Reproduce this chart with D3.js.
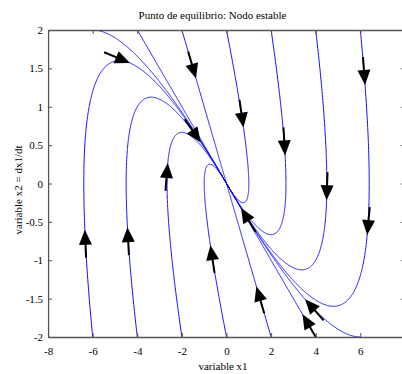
<!DOCTYPE html>
<html>
<head>
<meta charset="utf-8">
<script src="https://cdn.jsdelivr.net/npm/d3@7"></script>
<style>
  html, body { margin: 0; padding: 0; background: #fff; }
  svg { display: block; font-family: "Liberation Serif", "Times New Roman", serif; }
</style>
</head>
<body>
<svg id="chart" width="402" height="374"></svg>
<script>
// Linear system:  x1' = a11*x1 + a12*x2 ,  x2' = a21*x1 + a22*x2
const sysRow1 = [0, 1];
const sysRow2 = [-0.5, -1.5];

// Initial conditions: x1 positions on the top edge (x2 = 2) and bottom edge (x2 = -2)
const startX1 = [-6, -4, -2, 0, 2, 4, 6];
const startX2 = [2, -2];

// Arrow tips (approximate phase-plane positions, snapped onto the trajectories)
const arrowX1 = [-4.33, -6.26, -4.46, -1.50, -1.19, -2.62, 0.70, 0.65, 2.58, 4.50, 6.16, 6.30, 3.61, 3.38, 1.50, -0.65];
const arrowX2 = [ 1.57, -0.62, -0.57,  1.35,  0.53,  0.27, 0.72, -0.32, 0.37, -0.21, 1.26, -0.67, -1.49, -1.71, -1.32, -0.80];

// Axis ticks and labels
const xTicks = [-8, -6, -4, -2, 0, 2, 4, 6, 8];
const yTicks = [-2, -1.5, -1, -0.5, 0, 0.5, 1, 1.5, 2];
const xDomain = [-8, 8];
const yDomain = [-2, 2];
const titleText = "Punto de equilibrio: Nodo estable";
const xLabelText = "variable x1";
const yLabelText = "variable x2 = dx1/dt";

const svg = d3.select("#chart");
const plot = { left: 48.1, right: 404.9, top: 30, bottom: 337 };

const x = d3.scaleLinear().domain(xDomain).range([plot.left, plot.right]);
const y = d3.scaleLinear().domain(yDomain).range([plot.bottom, plot.top]);

// vector field
function field(p) {
  return [
    sysRow1[0] * p[0] + sysRow1[1] * p[1],
    sysRow2[0] * p[0] + sysRow2[1] * p[1]
  ];
}

// RK4 integration towards the equilibrium
function integrate(p0) {
  const dt = 0.01;
  const pts = [p0.slice()];
  let p = p0.slice();
  for (let t = 0; t < 60; t += dt) {
    const k1 = field(p);
    const k2 = field([p[0] + dt / 2 * k1[0], p[1] + dt / 2 * k1[1]]);
    const k3 = field([p[0] + dt / 2 * k2[0], p[1] + dt / 2 * k2[1]]);
    const k4 = field([p[0] + dt * k3[0], p[1] + dt * k3[1]]);
    p = [
      p[0] + dt / 6 * (k1[0] + 2 * k2[0] + 2 * k3[0] + k4[0]),
      p[1] + dt / 6 * (k1[1] + 2 * k2[1] + 2 * k3[1] + k4[1])
    ];
    pts.push(p);
    if (Math.hypot(p[0], p[1]) < 1e-3) break;
  }
  return pts;
}

const trajectories = [];
startX2.forEach(x2 => startX1.forEach(x1 => trajectories.push(integrate([x1, x2]))));

// clip region = axes box
svg.append("defs").append("clipPath").attr("id", "plotClip")
  .append("rect")
  .attr("x", plot.left).attr("y", plot.top)
  .attr("width", plot.right - plot.left).attr("height", plot.bottom - plot.top);

const gPlot = svg.append("g").attr("clip-path", "url(#plotClip)");

const line = d3.line().x(d => x(d[0])).y(d => y(d[1]));

gPlot.selectAll("path.traj")
  .data(trajectories)
  .join("path")
  .attr("class", "traj")
  .attr("d", line)
  .attr("fill", "none")
  .attr("stroke", "#1010ff")
  .attr("stroke-width", 1);

// arrows: snap each tip to the closest trajectory point, orient along the field
const allPts = trajectories.flat();
const arrows = arrowX1.map((ax, i) => {
  const ay = arrowX2[i];
  let best = null, bestD = Infinity;
  for (const q of allPts) {
    const d = Math.hypot(x(q[0]) - x(ax), y(q[1]) - y(ay));
    if (d < bestD) { bestD = d; best = q; }
  }
  const v = field(best);
  const vx = x(v[0]) - x(0);
  const vy = y(v[1]) - y(0);
  const n = Math.hypot(vx, vy);
  return { px: x(best[0]), py: y(best[1]), ux: vx / n, uy: vy / n };
});

const headLen = 15, headHalf = 6.5, shaftLen = 28;

gPlot.selectAll("line.shaft")
  .data(arrows)
  .join("line")
  .attr("class", "shaft")
  .attr("x1", d => d.px - d.ux * shaftLen)
  .attr("y1", d => d.py - d.uy * shaftLen)
  .attr("x2", d => d.px - d.ux * headLen * 0.5)
  .attr("y2", d => d.py - d.uy * headLen * 0.5)
  .attr("stroke", "#000")
  .attr("stroke-width", 2);

gPlot.selectAll("path.head")
  .data(arrows)
  .join("path")
  .attr("class", "head")
  .attr("d", d => {
    const bx = d.px - d.ux * headLen, by = d.py - d.uy * headLen;
    const nx = -d.uy, ny = d.ux;
    return `M${d.px},${d.py}L${bx + nx * headHalf},${by + ny * headHalf}L${bx - nx * headHalf},${by - ny * headHalf}Z`;
  })
  .attr("fill", "#000");

// axes (ticks pointing inward, box on all sides)
const fmt = d => String(d);
const axisColor = "#555";

function styleAxis(g) {
  g.selectAll(".domain").attr("stroke", axisColor).attr("stroke-width", 1.3);
  g.selectAll(".tick line").attr("stroke", axisColor);
  g.selectAll(".tick text").attr("fill", "#000").attr("font-size", 11)
    .attr("font-family", "Liberation Serif, Times New Roman, serif");
}

svg.append("g")
  .attr("transform", `translate(0,${plot.bottom})`)
  .call(d3.axisBottom(x).tickValues(xTicks).tickFormat(fmt).tickSize(-4).tickSizeOuter(0).tickPadding(10))
  .call(styleAxis);

svg.append("g")
  .attr("transform", `translate(0,${plot.top})`)
  .call(d3.axisTop(x).tickValues(xTicks).tickFormat("").tickSize(-4).tickSizeOuter(0))
  .call(styleAxis);

svg.append("g")
  .attr("transform", `translate(${plot.left},0)`)
  .call(d3.axisLeft(y).tickValues(yTicks).tickFormat(fmt).tickSize(-4).tickSizeOuter(0).tickPadding(5))
  .call(styleAxis);

svg.append("g")
  .attr("transform", `translate(${plot.right},0)`)
  .call(d3.axisRight(y).tickValues(yTicks).tickFormat("").tickSize(-4).tickSizeOuter(0))
  .call(styleAxis);

svg.selectAll(".tick text").attr("font-size", 11);

// title and axis labels
svg.append("text")
  .attr("x", 212.5).attr("y", 19)
  .attr("text-anchor", "middle")
  .attr("font-size", 11)
  .text(titleText);

svg.append("text")
  .attr("x", 223).attr("y", 370)
  .attr("text-anchor", "middle")
  .attr("font-size", 11)
  .text(xLabelText);

svg.append("text")
  .attr("transform", "translate(22,190) rotate(-90)")
  .attr("text-anchor", "middle")
  .attr("font-size", 11)
  .text(yLabelText);
</script>
</body>
</html>
